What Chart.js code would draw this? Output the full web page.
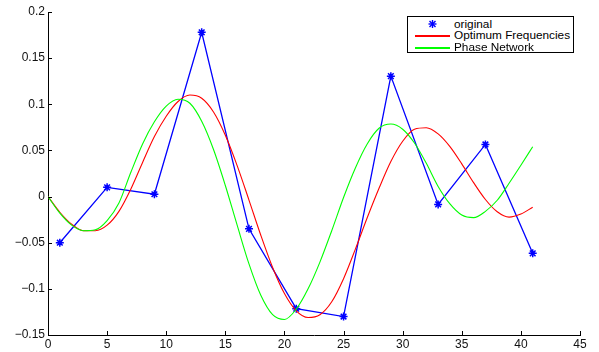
<!DOCTYPE html>
<html>
<head>
<meta charset="utf-8">
<script src="https://cdn.jsdelivr.net/npm/chart.js@4.4.1/dist/chart.umd.min.js"></script>
<style>
    body { margin: 0; background: #fff; }
    #wrap { position: relative; width: 599px; height: 352px; }
    #legend {
        position: absolute; left: 407px; top: 16px; width: 165px; height: 35px;
        border: 1px solid #000; background: #fff;
        font-family: "Liberation Sans", Arial, sans-serif; font-size: 11.8px; color: #000;
    }
    .row { position: absolute; left: 0; width: 165px; height: 12px; line-height: 12px; }
    .row .ln { position: absolute; left: 7px; top: 6px; width: 35px; height: 2px; }
    .row svg { position: absolute; left: 6px; top: 0; }
    .row span { position: absolute; left: 46px; white-space: nowrap; }
</style>
</head>
<body>
<div id="wrap">
    <canvas id="chart" width="599" height="352"></canvas>
    <div id="legend"></div>
</div>
<script>
// sample points of the original signal
const xOrig = [1, 5, 9, 13, 17, 21, 25, 29, 33, 37, 41];
const original = [-0.050, 0.010, 0.0025, 0.178, -0.035, -0.1215, -0.130, 0.1305, -0.0085, 0.0565, -0.0615];

const xFit = [0, 1, 2, 3, 4, 5, 6, 7, 8, 9, 10, 11, 12, 13, 14, 15, 16, 17, 18, 19, 20,
    21, 22, 23, 24, 25, 26, 27, 28, 29, 30, 31, 32, 33, 34, 35, 36, 37, 38, 39, 40, 41];
const optimumFreq = [0, -0.017, -0.030, -0.037, -0.037, -0.031, -0.016, 0.008, 0.037, 0.065, 0.087,
    0.103, 0.110, 0.1066, 0.0917, 0.0665, 0.0336, -0.0038, -0.0419, -0.0768, -0.1051,
    -0.1238, -0.131, -0.128, -0.114, -0.089, -0.057, -0.023, 0.009, 0.038, 0.060,
    0.073, 0.0746, 0.0679, 0.0541, 0.0354, 0.0151, -0.0032, -0.0165, -0.0223, -0.019, -0.0115];
const phaseNetwork = [0, -0.018, -0.031, -0.037, -0.036, -0.026, -0.007, 0.026, 0.057, 0.081, 0.098,
    0.1055, 0.1011, 0.0816, 0.051, 0.012, -0.031, -0.073, -0.107, -0.128, -0.1332,
    -0.122, -0.100, -0.071, -0.037, -0.001, 0.031, 0.057, 0.074, 0.0786, 0.073,
    0.058, 0.036, 0.011, -0.008, -0.020, -0.0228, -0.016, -0.004, 0.0144, 0.034, 0.054];

const seriesNames = ['original', 'Optimum Frequencies', 'Phase Network'];
const seriesColors = ['#0000ff', '#ff0000', '#00ff00'];
const xTicks = [0, 5, 10, 15, 20, 25, 30, 35, 40, 45];
const yTicks = [-0.15, -0.1, -0.05, 0, 0.05, 0.1, 0.15, 0.2];

const toPoints = (xs, ys) => xs.map((x, i) => ({ x: x, y: ys[i] }));

function fmt(v) {
    const s = String(+v.toFixed(2));
    return s.replace('-', '\u2212');
}

// MATLAB style ticks that point into the plot
const innerTicks = {
    id: 'innerTicks',
    afterDraw(chart) {
        const ctx = chart.ctx, xs = chart.scales.x, ys = chart.scales.y, a = chart.chartArea;
        ctx.save();
        ctx.strokeStyle = '#000';
        ctx.lineWidth = 1;
        ctx.beginPath();
        xs.ticks.forEach(t => {
            const p = Math.round(xs.getPixelForValue(t.value)) + 0.5;
            ctx.moveTo(p, a.bottom);
            ctx.lineTo(p, a.bottom - 4);
        });
        ys.ticks.forEach(t => {
            const p = Math.round(ys.getPixelForValue(t.value)) + 0.5;
            ctx.moveTo(a.left, p);
            ctx.lineTo(a.left + 4, p);
        });
        ctx.stroke();
        ctx.restore();
    }
};

const tickFont = { family: '"Liberation Sans", Arial, sans-serif', size: 12 };

new Chart(document.getElementById('chart'), {
    type: 'line',
    data: {
        datasets: [
            {
                label: seriesNames[0],
                data: toPoints(xOrig, original),
                borderColor: seriesColors[0],
                backgroundColor: seriesColors[0],
                borderWidth: 1.3,
                pointStyle: 'star',
                pointRadius: 4,
                pointBorderWidth: 1.5,
                tension: 0,
                order: 2
            },
            {
                label: seriesNames[1],
                data: toPoints(xFit, optimumFreq),
                borderColor: seriesColors[1],
                borderWidth: 1.1,
                pointRadius: 0,
                cubicInterpolationMode: 'monotone',
                order: 1
            },
            {
                label: seriesNames[2],
                data: toPoints(xFit, phaseNetwork),
                borderColor: seriesColors[2],
                borderWidth: 1.1,
                pointRadius: 0,
                cubicInterpolationMode: 'monotone',
                order: 0
            }
        ]
    },
    options: {
        responsive: false,
        animation: false,
        layout: { padding: { left: 0, right: 19, top: 12, bottom: 0 } },
        plugins: { legend: { display: false }, tooltip: { enabled: false } },
        scales: {
            x: {
                type: 'linear',
                min: 0,
                max: 45,
                afterBuildTicks: scale => { scale.ticks = xTicks.map(v => ({ value: v })); },
                afterFit: scale => { scale.height = 17; },
                grid: { display: false, drawTicks: false },
                border: { display: true, color: '#000', width: 1 },
                ticks: { color: '#111', font: tickFont, padding: 2, maxRotation: 0, autoSkip: false }
            },
            y: {
                type: 'linear',
                min: -0.15,
                max: 0.2,
                afterBuildTicks: scale => { scale.ticks = yTicks.map(v => ({ value: v })); },
                afterFit: scale => { scale.width = 48; },
                grid: { display: false, drawTicks: false },
                border: { display: true, color: '#000', width: 1 },
                ticks: { color: '#111', font: tickFont, padding: 3, autoSkip: false, callback: v => fmt(v) }
            }
        }
    },
    plugins: [innerTicks]
});

// legend box
const legend = document.getElementById('legend');
legend.innerHTML = seriesNames.map((name, i) => {
    const mark = i === 0
        ? `<svg width="36" height="12"><g stroke="${seriesColors[0]}" stroke-width="1.4">
             <line x1="18.5" y1="2" x2="18.5" y2="10"/><line x1="14.5" y1="6" x2="22.5" y2="6"/>
             <line x1="15.5" y1="3" x2="21.5" y2="9"/><line x1="15.5" y1="9" x2="21.5" y2="3"/></g></svg>`
        : `<div class="ln" style="background:${seriesColors[i]}"></div>`;
    return `<div class="row" style="top:${1 + i * 11.3}px">${mark}<span>${name}</span></div>`;
}).join('');
</script>
</body>
</html>
